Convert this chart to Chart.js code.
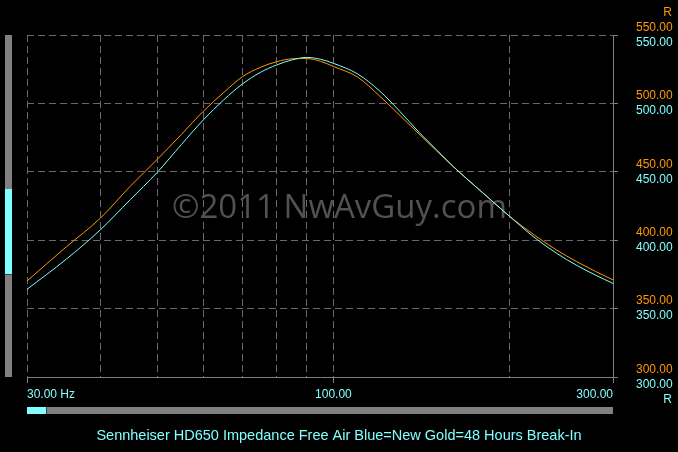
<!DOCTYPE html>
<html>
<head>
<meta charset="utf-8">
<script src="https://cdn.jsdelivr.net/npm/chart.js@4/dist/chart.umd.min.js"></script>
<style>
html,body{margin:0;padding:0;background:#000;overflow:hidden}
canvas{display:block}
</style>
</head>
<body>
<canvas id="c" width="678" height="452"></canvas>
<script>
// ---- data ----
const freqs = [30,35,40,45,50,55,60,65,70,75,80,85,90,95,100,110,120,130,140,150,160,180,200,220,240,260,280,300];
const gold  = [370.2,395.1,416.0,439.4,458.9,477.2,494.3,508.0,519.6,526.3,530.5,532.6,532.8,530.8,527.0,519.2,505.3,491.0,477.6,465.3,454.0,434.5,417.3,403.9,393.0,384.4,377.2,371.0];
const blue  = [364.1,386.1,407.5,429.6,449.4,469.8,488.0,502.6,514.3,522.6,528.1,531.8,533.6,532.3,529.3,521.5,509.0,493.9,478.9,466.0,454.0,434.5,417.3,402.2,390.6,381.7,374.5,368.4];
const gridFreqs = [30,40,50,60,70,80,90,100,200,300];
const xTickLabels = {30:'30.00 Hz', 100:'100.00', 300:'300.00'};
const yTicks = [300,350,400,450,500,550];
const unitLabel = 'R';
const titleText = 'Sennheiser HD650 Impedance Free Air Blue=New Gold=48 Hours Break-In';
const watermarkText = '\u00A92011 NwAvGuy.com';

const ORANGE = '#ff9900';
const CYAN = '#80ffff';
const GRID = '#6a6a6a';
const AXIS = '#808080';
const FONT = 'Liberation Sans, Arial, sans-serif';

const deco = {
  id: 'deco',
  beforeDraw(chart) {
    const c = chart.ctx;
    c.save();
    c.fillStyle = '#000';
    c.fillRect(0, 0, chart.width, chart.height);
    c.restore();
  },
  beforeDatasetsDraw(chart) {
    const c = chart.ctx;
    c.save();
    c.font = '34px "Open Sans", sans-serif';
    const w = c.measureText(watermarkText).width;
    const size = 34 * 335 / w;
    c.font = size.toFixed(2) + 'px "Open Sans", sans-serif';
    c.fillStyle = '#525252';
    c.textAlign = 'center';
    c.textBaseline = 'alphabetic';
    c.fillText(watermarkText, 339.5, 218);
    c.restore();
  },
  afterDraw(chart) {
    const c = chart.ctx;
    const xs = chart.scales.x;
    c.save();
    c.font = '12px ' + FONT;
    c.textBaseline = 'middle';
    c.fillStyle = CYAN;
    Object.keys(xTickLabels).forEach(k => {
      const v = Number(k);
      const px = xs.getPixelForValue(v);
      c.textAlign = v === xs.min ? 'left' : (v === xs.max ? 'right' : 'center');
      c.fillText(xTickLabels[k], px, 394.5);
    });
    // unit labels
    c.textAlign = 'right';
    c.fillStyle = ORANGE;
    c.fillText(unitLabel, 672, 12.5);
    c.fillStyle = CYAN;
    c.fillText(unitLabel, 672, 399.5);
    // title
    c.font = '14.5px ' + FONT;
    c.textAlign = 'center';
    c.fillStyle = CYAN;
    c.fillText(titleText, 339, 436);
    // scrollbars
    c.fillStyle = '#808080';
    c.fillRect(5, 35, 7, 342);
    c.fillStyle = CYAN;
    c.fillRect(5, 189, 7, 85);
    c.fillStyle = '#404040';
    c.fillRect(5, 274, 7, 1);
    c.fillStyle = '#808080';
    c.fillRect(27, 407, 586, 7);
    c.fillStyle = CYAN;
    c.fillRect(27, 407, 19, 7);
    c.fillStyle = '#404040';
    c.fillRect(46, 407, 1, 7);
    c.restore();
  }
};

function yAxis(color, offset, withGrid) {
  return {
    type: 'linear',
    position: 'right',
    min: 300,
    max: 550,
    afterBuildTicks: s => { s.ticks = yTicks.map(v => ({value: v})); },
    afterFit: s => {
      s.width = 0;
      // both right axes share the same edge; let their labels draw outside the zero-width box
      s._computeLabelArea = () => undefined;
    },
    ticks: {
      color: color,
      font: {family: FONT, size: 12},
      padding: 18,
      labelOffset: offset,
      autoSkip: false,
      callback: v => Number(v).toFixed(2)
    },
    grid: withGrid
      ? {display: true, color: GRID, lineWidth: 1, tickLength: 5, tickColor: AXIS}
      : {display: false, tickLength: 5},
    border: withGrid
      ? {display: true, color: AXIS, width: 1, dash: [7, 4]}
      : {display: false}
  };
}

new Chart(document.getElementById('c'), {
  type: 'line',
  data: {
    datasets: [
      {
        label: 'Blue=New',
        data: freqs.map((f, i) => ({x: f, y: blue[i]})),
        borderColor: CYAN,
        borderWidth: 1,
        pointRadius: 0,
        cubicInterpolationMode: 'monotone',
        yAxisID: 'yBlue'
      },
      {
        label: 'Gold=48 Hours Break-In',
        data: freqs.map((f, i) => ({x: f, y: gold[i]})),
        borderColor: ORANGE,
        borderWidth: 1,
        pointRadius: 0,
        cubicInterpolationMode: 'monotone',
        yAxisID: 'yGold'
      }
    ]
  },
  options: {
    responsive: false,
    animation: false,
    events: [],
    layout: {padding: {left: 27, top: 35, right: 65, bottom: 75}},
    plugins: {legend: {display: false}, tooltip: {enabled: false}},
    scales: {
      x: {
        type: 'logarithmic',
        min: 30,
        max: 300,
        afterBuildTicks: s => { s.ticks = gridFreqs.map(v => ({value: v})); },
        afterFit: s => { s.height = 0; },
        ticks: {display: false},
        grid: {
          color: GRID,
          lineWidth: 1,
          tickLength: 6,
          tickColor: ctx => (ctx.tick && xTickLabels[ctx.tick.value]) ? AXIS : 'rgba(0,0,0,0)'
        },
        border: {display: true, color: AXIS, width: 1, dash: [7, 4]}
      },
      yGold: yAxis(ORANGE, -7.5, true),
      yBlue: yAxis(CYAN, 7.5, false)
    }
  },
  plugins: [deco]
});
</script>
</body>
</html>
